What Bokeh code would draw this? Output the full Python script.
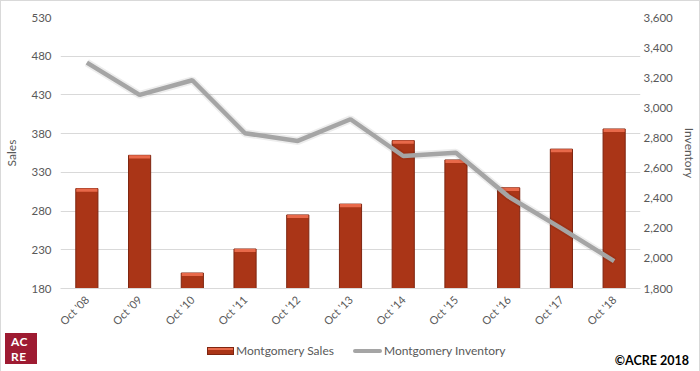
import math
from bokeh.plotting import figure
from bokeh.layouts import column
from bokeh.models import (Range1d, LinearAxis, FixedTicker, NumeralTickFormatter,
                          FactorRange, Div)
from bokeh.embed import file_html
from bokeh.resources import INLINE

periods = ["Oct '08", "Oct '09", "Oct '10", "Oct '11", "Oct '12", "Oct '13",
           "Oct '14", "Oct '15", "Oct '16", "Oct '17", "Oct '18"]
sales = [309, 352, 200, 231, 275, 289, 371, 346, 310, 360, 386]
inventory = [3300, 3086, 3183, 2831, 2780, 2924, 2680, 2702, 2410, 2199, 1982]
sales_ticks = [180, 230, 280, 330, 380, 430, 480, 530]
inventory_ticks = [1800, 2000, 2200, 2400, 2600, 2800, 3000, 3200, 3400, 3600]
series_names = ["Montgomery Sales", "Montgomery Inventory"]

FONT = "Lato"
TXT = "#595959"
GRID = "#D9D9D9"
BAR_FILL = "#AA3517"
BAR_EDGE = "#7E2510"
BAR_TOP = "#E8694A"
LINE_COL = "#A5A5A5"

W = 684
H_FOOT = 29

# ---------------- main chart ----------------
p = figure(frame_width=580, frame_height=271,
           x_range=FactorRange(factors=periods),
           y_range=Range1d(sales_ticks[0], sales_ticks[-1]),
           output_backend="svg", toolbar_location=None,
           min_border_left=52, min_border_right=52,
           min_border_top=16, min_border_bottom=44)
p.outline_line_color = None
p.background_fill_color = "white"
p.border_fill_color = "white"

p.extra_y_ranges = {"inv": Range1d(inventory_ticks[0], inventory_ticks[-1])}

xa = p.xaxis[0]
xa.major_label_orientation = math.pi / 4
xa.axis_line_color = GRID
xa.major_tick_line_color = None
xa.minor_tick_line_color = None
xa.major_tick_out = 0
xa.major_tick_in = 0
xa.minor_tick_out = 0
xa.major_label_text_font = FONT
xa.major_label_text_font_size = "11px"
xa.major_label_text_color = TXT
xa.major_label_standoff = 9

left = p.yaxis[0]
left.ticker = FixedTicker(ticks=sales_ticks)
left.axis_label = "Sales"

right = LinearAxis(y_range_name="inv", ticker=FixedTicker(ticks=inventory_ticks),
                   formatter=NumeralTickFormatter(format="0,0"), axis_label="Inventory")
p.add_layout(right, "right")

for ax in (left, right):
    ax.axis_line_color = None
    ax.major_tick_line_color = None
    ax.minor_tick_line_color = None
    ax.major_tick_out = 0
    ax.major_tick_in = 0
    ax.minor_tick_out = 0
    ax.minor_tick_in = 0
    ax.major_label_text_font = FONT
    ax.major_label_text_font_size = "11.5px"
    ax.major_label_text_color = TXT
    ax.axis_label_text_font = FONT
    ax.axis_label_text_font_size = "12px"
    ax.axis_label_text_color = TXT
    ax.axis_label_text_font_style = "normal"
left.major_label_standoff = 9
left.axis_label_standoff = 9
right.major_label_standoff = 3
right.axis_label_standoff = 6

p.xgrid.grid_line_color = None
p.ygrid.grid_line_color = GRID
p.ygrid.grid_line_width = 1

p.vbar(x=periods, top=sales, bottom=sales_ticks[0], width=0.42,
       fill_color=BAR_FILL, line_color=BAR_EDGE, line_width=1)
p.vbar(x=periods, top=sales, bottom=[s - 4 for s in sales], width=0.40,
       fill_color=BAR_TOP, line_color=None)

p.line(periods, inventory, y_range_name="inv", line_width=8, line_color="#000000",
       line_alpha=0.07)
p.line(periods, inventory, y_range_name="inv", line_width=4.5, line_color=LINE_COL)

# ---------------- footer: legend, logo, copyright ----------------
foot_html = f"""
<div style="position:relative;width:{W}px;height:{H_FOOT}px;font-family:{FONT},sans-serif;overflow:visible;">
  <div style="position:absolute;left:-1px;top:-6px;width:32px;height:31px;
              background:#9E1B32;color:#fff;font-size:12px;font-weight:bold;line-height:15px;
              box-sizing:border-box;padding:1px 0 0 6px;letter-spacing:0.5px;">AC<br>RE</div>
  <div style="position:absolute;left:201px;top:3px;height:17px;display:flex;
              align-items:center;font-size:12px;color:{TXT};white-space:nowrap;">
    <span style="display:inline-block;width:27px;height:8px;box-sizing:border-box;
                 background:linear-gradient({BAR_TOP} 0 2px, {BAR_FILL} 2px);
                 border:1px solid {BAR_EDGE};"></span>
    <span style="margin-left:2px;">{series_names[0]}</span>
    <span style="display:inline-block;width:29px;height:4px;background:{LINE_COL};
                 margin-left:19px;border-radius:2px;"></span>
    <span style="margin-left:2px;">{series_names[1]}</span>
  </div>
  <div style="position:absolute;right:1px;top:15px;font-size:12.5px;line-height:14px;
              font-weight:bold;color:#000;white-space:nowrap;">©ACRE 2018</div>
</div>
"""
foot = Div(text=foot_html, width=W, height=H_FOOT)

layout = column(p, foot, spacing=0)
layout.styles = {"border": "1px solid #D9D9D9"}

open("out.html", "w").write(file_html(layout, INLINE))
